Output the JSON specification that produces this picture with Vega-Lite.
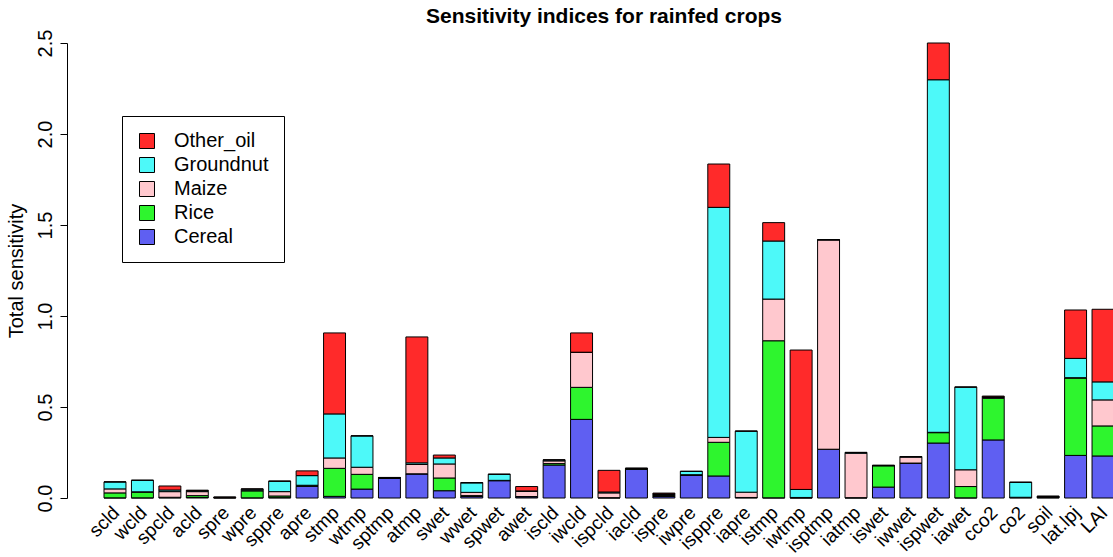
{
  "$schema": "https://vega.github.io/schema/vega-lite/v6.json",
  "width": 1010,
  "height": 455,
  "autosize": {"type": "none"},
  "padding": {"left": 104, "top": 43, "right": 0, "bottom": 59},
  "background": "white",
  "config": {"view": {"stroke": null}, "font": "Liberation Sans"},
  "title": {"text": "Sensitivity indices for rainfed crops", "fontSize": 21, "fontWeight": "bold", "font": "Liberation Sans", "color": "black", "anchor": "middle", "offset": 2, "dx": -5},
  "data": {"values": [
    {"var": "scld", "Cereal": 0.001, "Rice": 0.027, "Maize": 0.022, "Groundnut": 0.038, "Other_oil": 0.001},
    {"var": "wcld", "Cereal": 0.001, "Rice": 0.031, "Maize": 0.002, "Groundnut": 0.063, "Other_oil": 0.001},
    {"var": "spcld", "Cereal": 0.002, "Rice": 0.002, "Maize": 0.031, "Groundnut": 0.009, "Other_oil": 0.022},
    {"var": "acld", "Cereal": 0.003, "Rice": 0.010, "Maize": 0.022, "Groundnut": 0.005, "Other_oil": 0.003},
    {"var": "spre", "Cereal": 0.001, "Rice": 0.001, "Maize": 0.001, "Groundnut": 0.001, "Other_oil": 0.001},
    {"var": "wpre", "Cereal": 0.001, "Rice": 0.038, "Maize": 0.004, "Groundnut": 0.006, "Other_oil": 0.001},
    {"var": "sppre", "Cereal": 0.002, "Rice": 0.009, "Maize": 0.024, "Groundnut": 0.057, "Other_oil": 0.001},
    {"var": "apre", "Cereal": 0.064, "Rice": 0.004, "Maize": 0.002, "Groundnut": 0.053, "Other_oil": 0.026},
    {"var": "stmp", "Cereal": 0.009, "Rice": 0.154, "Maize": 0.057, "Groundnut": 0.242, "Other_oil": 0.445},
    {"var": "wtmp", "Cereal": 0.049, "Rice": 0.081, "Maize": 0.039, "Groundnut": 0.172, "Other_oil": 0.001},
    {"var": "sptmp", "Cereal": 0.108, "Rice": 0.002, "Maize": 0.001, "Groundnut": 0.001, "Other_oil": 0.001},
    {"var": "atmp", "Cereal": 0.132, "Rice": 0.001, "Maize": 0.051, "Groundnut": 0.009, "Other_oil": 0.692},
    {"var": "swet", "Cereal": 0.040, "Rice": 0.070, "Maize": 0.077, "Groundnut": 0.033, "Other_oil": 0.016},
    {"var": "wwet", "Cereal": 0.008, "Rice": 0.005, "Maize": 0.018, "Groundnut": 0.052, "Other_oil": 0.002},
    {"var": "spwet", "Cereal": 0.095, "Rice": 0.001, "Maize": 0.001, "Groundnut": 0.033, "Other_oil": 0.001},
    {"var": "awet", "Cereal": 0.006, "Rice": 0.002, "Maize": 0.028, "Groundnut": 0.003, "Other_oil": 0.024},
    {"var": "iscld", "Cereal": 0.181, "Rice": 0.008, "Maize": 0.015, "Groundnut": 0.005, "Other_oil": 0.001},
    {"var": "iwcld", "Cereal": 0.432, "Rice": 0.176, "Maize": 0.192, "Groundnut": 0.001, "Other_oil": 0.106},
    {"var": "ispcld", "Cereal": 0.001, "Rice": 0.001, "Maize": 0.026, "Groundnut": 0.005, "Other_oil": 0.119},
    {"var": "iacld", "Cereal": 0.158, "Rice": 0.002, "Maize": 0.002, "Groundnut": 0.001, "Other_oil": 0.001},
    {"var": "ispre", "Cereal": 0.008, "Rice": 0.006, "Maize": 0.005, "Groundnut": 0.004, "Other_oil": 0.004},
    {"var": "iwpre", "Cereal": 0.125, "Rice": 0.002, "Maize": 0.001, "Groundnut": 0.018, "Other_oil": 0.001},
    {"var": "isppre", "Cereal": 0.121, "Rice": 0.185, "Maize": 0.027, "Groundnut": 1.264, "Other_oil": 0.238},
    {"var": "iapre", "Cereal": 0.002, "Rice": 0.001, "Maize": 0.029, "Groundnut": 0.335, "Other_oil": 0.001},
    {"var": "istmp", "Cereal": 0.001, "Rice": 0.863, "Maize": 0.229, "Groundnut": 0.319, "Other_oil": 0.101},
    {"var": "iwtmp", "Cereal": 0.001, "Rice": 0.001, "Maize": 0.001, "Groundnut": 0.044, "Other_oil": 0.766},
    {"var": "isptmp", "Cereal": 0.267, "Rice": 0.001, "Maize": 1.150, "Groundnut": 0.001, "Other_oil": 0.001},
    {"var": "iatmp", "Cereal": 0.001, "Rice": 0.001, "Maize": 0.244, "Groundnut": 0.004, "Other_oil": 0.001},
    {"var": "iswet", "Cereal": 0.060, "Rice": 0.117, "Maize": 0.001, "Groundnut": 0.001, "Other_oil": 0.001},
    {"var": "iwwet", "Cereal": 0.190, "Rice": 0.002, "Maize": 0.033, "Groundnut": 0.002, "Other_oil": 0.001},
    {"var": "ispwet", "Cereal": 0.302, "Rice": 0.057, "Maize": 0.002, "Groundnut": 1.937, "Other_oil": 0.202},
    {"var": "iawet", "Cereal": 0.001, "Rice": 0.062, "Maize": 0.092, "Groundnut": 0.454, "Other_oil": 0.001},
    {"var": "cco2", "Cereal": 0.319, "Rice": 0.229, "Maize": 0.004, "Groundnut": 0.004, "Other_oil": 0.004},
    {"var": "co2", "Cereal": 0.002, "Rice": 0.001, "Maize": 0.001, "Groundnut": 0.082, "Other_oil": 0.001},
    {"var": "soil", "Cereal": 0.002, "Rice": 0.002, "Maize": 0.002, "Groundnut": 0.002, "Other_oil": 0.003},
    {"var": "lat.lpj", "Cereal": 0.234, "Rice": 0.425, "Maize": 0.002, "Groundnut": 0.106, "Other_oil": 0.266},
    {"var": "LAI", "Cereal": 0.231, "Rice": 0.165, "Maize": 0.143, "Groundnut": 0.099, "Other_oil": 0.399}
  ]},
  "transform": [
    {"fold": ["Cereal", "Rice", "Maize", "Groundnut", "Other_oil"], "as": ["crop", "value"]},
    {"calculate": "indexof(['Cereal', 'Rice', 'Maize', 'Groundnut', 'Other_oil'], datum.crop)", "as": "stackRank"}
  ],
  "mark": {"type": "bar", "stroke": "black", "strokeWidth": 1},
  "encoding": {
    "x": {
      "field": "var", "type": "nominal", "sort": null,
      "scale": {"paddingInner": 0.2, "paddingOuter": 0},
      "axis": {"title": null, "domain": false, "ticks": false, "labelAngle": -45, "labelAlign": "right", "labelBaseline": "top", "labelPadding": 5, "labelOffset": -5, "labelFontSize": 19, "labelFont": "Liberation Sans", "labelColor": "black", "labelOverlap": false, "labelBound": false, "labelLimit": 0}
    },
    "y": {
      "field": "value", "type": "quantitative", "stack": "zero",
      "scale": {"domain": [0, 2.5], "nice": false},
      "axis": {"title": "Total sensitivity", "values": [0, 0.5, 1, 1.5, 2, 2.5], "format": ".1f", "grid": false, "offset": 37, "labelAngle": 270, "labelAlign": "center", "labelBaseline": "bottom", "labelPadding": 5, "labelFontSize": 20, "labelFont": "Liberation Sans", "labelColor": "black", "tickColor": "black", "tickSize": 7, "domainColor": "black", "titleFontSize": 20, "titleFont": "Liberation Sans", "titleFontWeight": "normal", "titleColor": "black", "titlePadding": 9}
    },
    "order": {"field": "stackRank", "type": "quantitative", "sort": "ascending"},
    "color": {
      "field": "crop", "type": "nominal",
      "scale": {"domain": ["Other_oil", "Groundnut", "Maize", "Rice", "Cereal"], "range": ["#FF2A2A", "#4DF9F9", "#FFC8CE", "#2EF52E", "#5F5FF2"]},
      "legend": {"orient": "none", "legendX": 18, "legendY": 73, "title": null, "padding": 15, "strokeColor": "black", "fillColor": "white", "symbolType": "square", "symbolSize": 225, "symbolStrokeColor": "black", "symbolStrokeWidth": 1, "symbolOffset": 0, "labelOffset": 17, "labelFontSize": 20, "labelFont": "Liberation Sans", "labelColor": "black", "rowPadding": 4}
    }
  }
}
